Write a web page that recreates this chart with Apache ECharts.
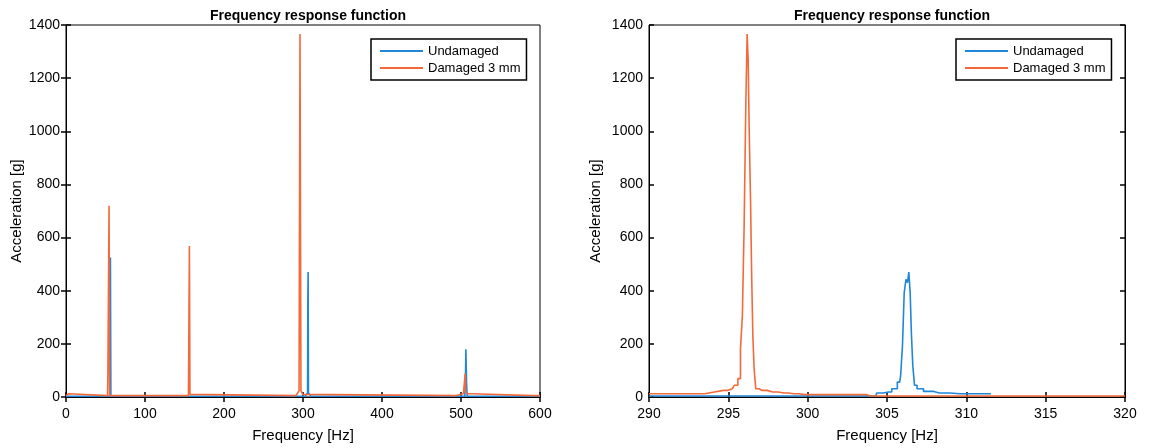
<!DOCTYPE html>
<html>
<head>
<meta charset="utf-8">
<script src="https://cdn.jsdelivr.net/npm/echarts@6/dist/echarts.min.js"></script>
<style>
html,body{margin:0;padding:0;background:#fff;}
#c{width:1149px;height:448px;}
</style>
</head>
<body>
<div id="c"></div>
<script>
// ---- Data ----
const titleText = "Frequency response function";
const seriesNames = ["Undamaged", "Damaged 3 mm"];
const yTicks = [0, 200, 400, 600, 800, 1000, 1200, 1400];
const xTicksLeft = [0, 100, 200, 300, 400, 500, 600];
const xTicksRight = [290, 295, 300, 305, 310, 315, 320];

// Left panel, full range 0-600 Hz: [frequency Hz, acceleration g]
const undamagedFull = [
  [0,3],[55.6,3],[56.2,525],[56.8,3],[303,3],[305,10],[305.8,15],[306.1,345],[306.5,470],
  [306.9,15],[308,8],[310,3],[504.8,3],[505.6,60],[506.2,180],[507,55],[507.8,3],[600,3]
];
const damagedFull = [
  [0,5],[2,5],[3,12],[4,5],[52.6,5],[53,80],[53.8,80],[54.5,720],[55.2,5],
  [155,5],[155.6,10],[156.2,568],[156.9,10],[157.5,5],
  [291,5],[293,14],[295,24],[296.2,1366],[297.4,24],[299.5,10],[302,5],
  [493,5],[495,12],[503,12],[504.5,60],[505.3,88],[506,20],[508,12],[514,12],[515,5],
  [591,5],[592,12],[593,5],[600,5]
];

// Right panel, zoom 290-320 Hz
const undamagedZoom = [
  [290,4],[304.3,4],[304.4,15],[305.1,19],[305.5,31],[305.8,56],[305.92,81],[306.03,193],
  [306.14,393],[306.25,443],[306.33,430],[306.42,470],[306.5,393],[306.57,243],[306.68,119],
  [306.79,44],[307.0,31],[307.6,21],[308.3,15],[309.6,12],[311.55,12]
];
const damagedZoom = [
  [290,12],[293.5,12],[293.55,19],[294.7,25],[295.25,31],[295.5,44],[295.7,69],[295.83,181],
  [295.94,306],[296.05,643],[296.15,1092],[296.22,1366],[296.28,1266],[296.35,1004],[296.44,755],
  [296.51,443],[296.58,231],[296.67,106],[296.79,31],[297.1,25],[297.8,19],[298.5,15],
  [299.1,12],[299.8,9],[301.4,9],[303.7,9],[303.95,4],[320,4]
];

const BLUE = '#1f86da';
const ORANGE = '#f4693a';
const FONT = 'Liberation Sans, Arial, sans-serif';

const grids = [
  {left: 66, width: 474, top: 25, height: 372},
  {left: 649, width: 476, top: 25, height: 372}
];

function xAxesFor(gi, ticks) {
  const base = {
    gridIndex: gi, type: 'value', min: ticks[0], max: ticks[ticks.length - 1],
    interval: ticks[1] - ticks[0],
    axisLine: {show: true, lineStyle: {color: '#000', width: 1}},
    axisTick: {show: true, inside: true, length: 5, lineStyle: {color: '#000', width: 1.5}},
    splitLine: {show: false}
  };
  return [
    Object.assign({}, base, {
      position: 'bottom',
      axisLabel: {color: '#000', fontSize: 14, fontFamily: FONT, margin: 10,
                  formatter: v => String(v)},
      name: 'Frequency [Hz]', nameLocation: 'middle', nameGap: 31,
      nameTextStyle: {color: '#000', fontSize: 15, fontFamily: FONT}
    }),
    Object.assign({}, base, {position: 'top', axisLabel: {show: false}})
  ];
}
function yAxesFor(gi, gap) {
  const base = {
    gridIndex: gi, type: 'value', min: yTicks[0], max: yTicks[yTicks.length - 1],
    interval: yTicks[1] - yTicks[0],
    axisLine: {show: true, lineStyle: {color: '#000', width: 1}},
    axisTick: {show: true, inside: true, length: 5, lineStyle: {color: '#000', width: 1.5}},
    splitLine: {show: false}
  };
  return [
    Object.assign({}, base, {
      position: 'left',
      axisLabel: {color: '#000', fontSize: 14, fontFamily: FONT, margin: 6,
                  formatter: v => String(v)},
      name: 'Acceleration [g]', nameLocation: 'middle', nameGap: gap, nameRotate: 90,
      nameMoveOverlap: false,
      nameTextStyle: {color: '#000', fontSize: 15, fontFamily: FONT}
    }),
    Object.assign({}, base, {position: 'right', axisLabel: {show: false}})
  ];
}

const xAxis = [].concat(xAxesFor(0, xTicksLeft), xAxesFor(1, xTicksRight));
const yAxis = [].concat(yAxesFor(0, 42), yAxesFor(1, 46));

function lineSeries(name, data, color, xi, yi, step) {
  return {
    name: name, type: 'line', data: data, xAxisIndex: xi, yAxisIndex: yi,
    showSymbol: false, symbol: 'none', step: step || false,
    lineStyle: {color: color, width: 1.6}, itemStyle: {color: color},
    animation: false, silent: true
  };
}

function legendFor(left) {
  return {
    left: left, top: 39, orient: 'vertical',
    data: seriesNames,
    icon: 'rect', itemWidth: 43, itemHeight: 2, itemGap: 3,
    padding: [5, 6, 5, 9],
    borderColor: '#000', borderWidth: 1.5, backgroundColor: '#fff',
    textStyle: {color: '#000', fontSize: 13, fontFamily: FONT, lineHeight: 14},
    selectedMode: false
  };
}

const option = {
  animation: false,
  backgroundColor: '#fff',
  title: [
    {text: titleText, left: 303, top: 4, textAlign: 'center',
     textStyle: {fontSize: 14, fontWeight: 'bold', fontFamily: FONT, color: '#000'}},
    {text: titleText, left: 887, top: 4, textAlign: 'center',
     textStyle: {fontSize: 14, fontWeight: 'bold', fontFamily: FONT, color: '#000'}}
  ],
  grid: grids.map(g => Object.assign({show: true, borderColor: '#000', borderWidth: 1, backgroundColor: '#fff'}, g)),
  xAxis: xAxis,
  yAxis: yAxis,
  legend: [legendFor(371), legendFor(956)],
  series: [
    lineSeries(seriesNames[0], undamagedFull, BLUE, 0, 0),
    lineSeries(seriesNames[1], damagedFull, ORANGE, 0, 0),
    lineSeries(seriesNames[0], undamagedZoom, BLUE, 2, 2, 'middle'),
    lineSeries(seriesNames[1], damagedZoom, ORANGE, 2, 2, 'middle')
  ]
};

const chart = echarts.init(document.getElementById('c'), null, {renderer: 'canvas'});
chart.setOption(option);
</script>
</body>
</html>
